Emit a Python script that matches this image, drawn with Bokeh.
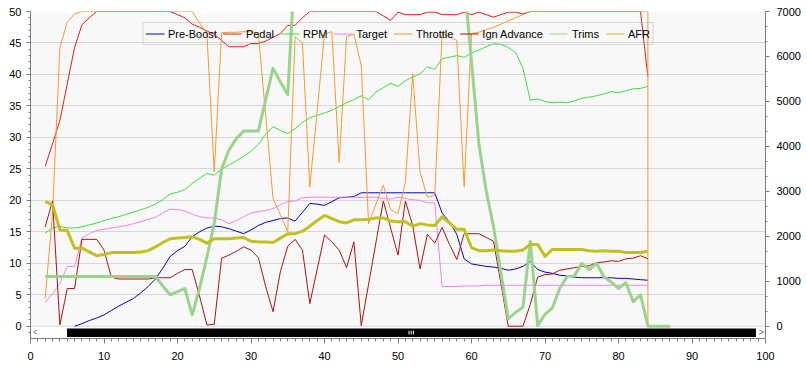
from bokeh.plotting import figure
from bokeh.models import (Range1d, LinearAxis, SingleIntervalTicker, Legend,
                          LegendItem, BoxAnnotation)
from bokeh.embed import file_html
from bokeh.resources import INLINE

# ---------------- data ----------------
X = list(range(2, 85))            # samples 2..84
X_PB = list(range(6, 85))         # Pre-Boost starts at 6
X_TRIMS = list(range(2, 88))      # Trims runs to 87

PRE_BOOST = [
    0.0, 0.4, 0.9, 1.3, 1.8,
    2.5, 3.2, 3.8, 4.4, 5.3,
    6.3, 7.5, 9.2, 11.1, 12.0,
    12.7, 14.2, 15.0, 15.6, 15.9,
    15.8, 15.5, 15.1, 14.7, 15.3,
    16.0, 16.5, 16.8, 17.1, 17.2,
    16.7, 18.1, 19.5, 19.4, 19.2,
    19.8, 20.4, 20.5, 20.6, 21.2,
    21.2, 21.2, 21.2, 21.2, 21.2,
    21.2, 21.2, 21.2, 21.2, 21.2,
    18.0, 16.6, 14.6, 10.7, 9.9,
    9.7, 9.5, 9.4, 9.2, 8.9,
    9.1, 9.5, 10.3, 9.0, 8.6,
    8.4, 8.1, 8.0, 7.8, 7.7,
    7.7, 7.7, 7.7, 7.7, 7.6,
    7.6, 7.5, 7.4, 7.3,
]

PEDAL = [
    25.4, 29.0, 32.7, 38.5, 44.3,
    47.9, 49.0, 50.0, 50.0, 50.0,
    50.0, 50.0, 50.0, 50.0, 50.0,
    50.0, 50.0, 50.0, 49.5, 49.0,
    48.0, 47.5, 46.9, 46.4, 45.4,
    44.4, 44.4, 44.4, 44.9, 44.9,
    45.3, 45.9, 46.5, 47.8, 47.8,
    49.0, 50.0, 50.0, 50.0, 50.0,
    50.0, 50.0, 50.0, 50.0, 50.0,
    50.0, 49.3, 48.6, 49.9, 49.5,
    49.5, 49.5, 49.9, 49.9, 49.5,
    49.5, 49.5, 49.9, 49.5, 49.9,
    49.5, 49.1, 49.5, 49.9, 49.9,
    49.6, 50.0, 50.0, 50.0, 50.0,
    50.0, 50.0, 50.0, 50.0, 50.0,
    50.0, 50.0, 50.0, 50.0, 50.0,
    50.0, 50.0, 39.6,
]

RPM = [
    2070, 2185, 2225, 2185, 2185,
    2210, 2255, 2295, 2350, 2395,
    2435, 2490, 2535, 2590, 2645,
    2715, 2815, 2940, 2980, 3040,
    3175, 3290, 3400, 3360, 3500,
    3585, 3680, 3780, 3890, 4045,
    4270, 4440, 4355, 4285, 4395,
    4535, 4635, 4690, 4745, 4800,
    4885, 4970, 5040, 5125, 5040,
    5210, 5305, 5405, 5335, 5460,
    5545, 5615, 5770, 5710, 5950,
    5980, 6020, 5980, 6075, 6145,
    6215, 6285, 6270, 6200, 6090,
    5740, 5025, 5055, 5000, 4970,
    4985, 4970, 5010, 5070, 5095,
    5125, 5165, 5220, 5195, 5235,
    5280, 5290, 5335,
]

TARGET = [
    3.8, 5.2, 6.8, 9.5, 9.5,
    14.0, 14.7, 15.2, 15.4, 15.6,
    15.8, 16.0, 16.3, 16.6, 17.0,
    17.3, 18.0, 18.6, 18.5, 18.3,
    17.8, 17.4, 17.2, 17.2, 16.9,
    16.3, 16.8, 17.4, 18.0, 18.2,
    18.4, 18.7, 19.3, 19.8, 19.9,
    20.4, 20.5, 20.5, 20.5, 20.5,
    20.5, 20.5, 20.5, 20.5, 20.5,
    20.5, 20.3, 20.2, 20.5, 20.3,
    20.1, 20.0, 19.6, 19.6, 6.3,
    6.3, 6.3, 6.4, 6.4, 6.4,
    6.5, 6.5, 6.5, 6.5, 6.5,
    6.5, 6.5, 6.5, 6.5, 6.5,
    6.5, 6.5, 6.5, 6.5, 6.5,
    6.5, 6.5, 6.5, 6.5, 6.5,
    6.5, 6.5, 6.5,
]

X_THROTTLE = X + [84]
THROTTLE = [
    4.4, 18.0, 44.3, 48.3, 49.6,
    50.0, 50.0, 50.0, 50.0, 50.0,
    50.0, 50.0, 50.0, 50.0, 50.0,
    50.0, 50.0, 50.0, 50.0, 50.0,
    50.0, 48.2, 46.5, 24.5, 46.6,
    46.7, 46.7, 46.8, 46.8, 46.5,
    33.5, 20.3, 17.7, 15.0, 46.0,
    45.0, 22.1, 34.2, 46.4, 46.8,
    26.0, 46.0, 46.4, 41.4, 16.3,
    19.4, 22.4, 18.5, 17.9, 22.8,
    40.0, 24.5, 20.5, 20.8, 46.5,
    46.0, 45.4, 22.1, 46.5, 46.7,
    47.1, 47.5, 48.0, 48.5, 49.0,
    49.5, 50.0, 50.0, 50.0, 50.0,
    50.0, 50.0, 50.0, 50.0, 50.0,
    50.0, 50.0, 50.0, 50.0, 50.0,
    50.0, 50.0, 50.0, 0.0,
]

IGN_ADVANCE = [
    15.8, 19.9, 0.2, 6.0, 6.0,
    13.8, 13.8, 13.8, 12.1, 7.8,
    7.5, 7.5, 7.5, 7.5, 7.5,
    7.7, 7.7, 7.7, 8.4, 9.0,
    9.0, 4.8, 0.2, 0.3, 10.8,
    11.3, 11.9, 12.6, 12.1, 10.9,
    6.3, 2.3, 8.7, 12.7, 13.8,
    12.1, 3.6, 9.0, 14.5, 13.4,
    12.1, 9.3, 13.4, 0.1, 6.7,
    13.3, 19.9, 15.6, 11.3, 19.9,
    16.0, 9.1, 14.6, 13.2, 15.7,
    13.0, 10.6, 14.7, 14.7, 14.7,
    14.1, 13.5, 6.8, 0.0, 0.0,
    0.0, 3.5, 7.8, 8.2, 8.3,
    8.9, 9.1, 9.3, 9.5, 9.6,
    10.1, 10.2, 10.4, 10.3, 10.7,
    10.8, 11.2, 10.7,
]

TRIMS = [
    7.9, 7.9, 7.9, 7.9, 7.9,
    7.9, 7.9, 7.9, 7.9, 7.9,
    7.9, 7.9, 7.9, 7.9, 7.9,
    7.9, 6.4, 5.0, 5.5, 6.0,
    1.8, 6.0, 11.0, 16.3, 25.0,
    28.0, 29.8, 31.0, 31.0, 31.0,
    36.0, 41.0, 38.8, 36.8, 58.0,
    58.0, 58.0, 58.0, 58.0, 58.0,
    58.0, 58.0, 58.0, 58.0, 58.0,
    58.0, 58.0, 58.0, 58.0, 58.0,
    58.0, 58.0, 58.0, 58.0, 58.0,
    58.0, 58.0, 55.0, 42.0, 29.0,
    21.5, 15.8, 8.5, 1.2, 2.2,
    3.0, 13.5, 0.1, 1.9, 2.9,
    6.0, 7.9, 8.0, 10.0, 9.0,
    10.0, 7.9, 7.0, 6.0, 6.9,
    3.9, 5.0, 0.0, 0.0, 0.0,
    0.0,
]

AFR = [
    19.8, 19.3, 15.3, 15.2, 12.4,
    12.4, 11.8, 11.2, 11.4, 11.7,
    11.7, 11.7, 11.7, 11.8, 12.0,
    12.6, 13.3, 13.9, 14.0, 14.1,
    14.2, 13.8, 13.2, 13.9, 13.9,
    13.9, 14.0, 14.1, 13.5, 13.4,
    13.4, 13.3, 14.0, 14.7, 14.7,
    15.1, 15.9, 16.8, 17.6, 17.1,
    16.6, 16.4, 16.9, 16.9, 17.0,
    17.2, 17.2, 16.7, 16.6, 16.6,
    15.9, 16.3, 16.1, 16.0, 17.4,
    16.4, 15.4, 15.4, 12.5, 12.0,
    12.0, 12.1, 12.0, 11.9, 11.9,
    12.1, 13.0, 13.0, 11.1, 12.2,
    12.2, 12.2, 12.2, 12.2, 12.0,
    11.9, 12.0, 11.9, 11.9, 11.7,
    11.7, 11.7, 11.9,
]

SERIES_NAMES = ["Pre-Boost", "Pedal", "RPM", "Target", "Throttle",
                "Ign Advance", "Trims", "AFR"]
COLORS = ["#0000cd", "#e41c1c", "#3cdc3c", "#ee82ee", "#f39a30",
          "#b01010", "#9ad48c", "#c0c020"]

X_RANGE = (0, 100)
LEFT_RANGE = (-1.95, 50)
RPM_RANGE = (-273, 7000)

FONT = "Liberation Sans"
FS = "11px"

# ---------------- figure ----------------
p = figure(frame_width=735, frame_height=327,
           x_range=Range1d(*X_RANGE), y_range=Range1d(*LEFT_RANGE),
           output_backend="svg", toolbar_location=None,
           min_border_left=30, min_border_right=37,
           min_border_top=11, min_border_bottom=26,
           background_fill_color="#f8f8f8", border_fill_color="white",
           outline_line_color=None)

p.extra_y_ranges = {"rpm": Range1d(*RPM_RANGE)}

left_ticker = SingleIntervalTicker(interval=5, num_minor_ticks=5)
p.yaxis.ticker = left_ticker
p.ygrid.ticker = left_ticker
p.ygrid.grid_line_color = "#d6d6d6"
p.xgrid.visible = False
p.xaxis.ticker = SingleIntervalTicker(interval=10, num_minor_ticks=10)

right_axis = LinearAxis(y_range_name="rpm",
                        ticker=SingleIntervalTicker(interval=1000, num_minor_ticks=3))
p.add_layout(right_axis, "right")

for ax in [p.xaxis[0], p.yaxis[0], right_axis]:
    ax.axis_line_color = "#7a7a7a"
    ax.major_tick_line_color = "#7a7a7a"
    ax.minor_tick_line_color = "#7a7a7a"
    ax.major_tick_in = 0
    ax.minor_tick_in = 0
    ax.major_label_text_font = FONT
    ax.major_label_text_font_size = FS
    ax.major_label_text_color = "black"

p.yaxis[0].major_tick_out = 4
p.yaxis[0].minor_tick_out = 2
p.yaxis[0].major_label_standoff = 5
right_axis.major_tick_out = 4
right_axis.minor_tick_out = 2
right_axis.major_label_standoff = 7
p.xaxis[0].major_tick_out = 5
p.xaxis[0].minor_tick_out = 3
p.xaxis[0].major_label_standoff = 8

# ---------------- scrollbar chrome (decoration) ----------------
p.add_layout(BoxAnnotation(left=X_RANGE[0], right=X_RANGE[1], bottom=LEFT_RANGE[0], top=0,
                           fill_color="white", fill_alpha=1, line_color="#9a9a9a",
                           line_width=1, level="underlay"))
p.add_layout(BoxAnnotation(left=4.97, right=98.7, bottom=-1.7, top=-0.37,
                           fill_color="black", fill_alpha=1, line_color=None,
                           level="underlay"))
p.segment(x0=[51.5, 51.8, 52.1], y0=[-0.72] * 3, x1=[51.5, 51.8, 52.1], y1=[-1.3] * 3,
          line_color="white", line_width=1)
p.line([0.88, 0.44, 0.88], [-0.63, -0.95, -1.27], line_color="#808080", line_width=1)
p.line([99.15, 99.76, 99.15], [-0.63, -0.95, -1.27], line_color="#808080", line_width=1)

# ---------------- series ----------------
r_pb = p.line(X_PB, PRE_BOOST, line_color=COLORS[0], line_width=1)
r_pedal = p.line(X, PEDAL, line_color=COLORS[1], line_width=1)
r_rpm = p.line(X, RPM, line_color=COLORS[2], line_width=1, y_range_name="rpm")
r_target = p.line(X, TARGET, line_color=COLORS[3], line_width=1)
r_thr = p.line(X_THROTTLE, THROTTLE, line_color=COLORS[4], line_width=1)
r_ign = p.line(X, IGN_ADVANCE, line_color=COLORS[5], line_width=1)
r_trims = p.line(X_TRIMS, TRIMS, line_color=COLORS[6], line_width=3, line_join="round")
r_afr = p.line(X, AFR, line_color=COLORS[7], line_width=3, line_join="round")

# thin legend samples for the thick series (single off-range point: draws nothing)
d_trims = p.line([-10], [-10], line_color=COLORS[6], line_width=1)
d_afr = p.line([-10], [-10], line_color=COLORS[7], line_width=1)

legend_renderers = [r_pb, r_pedal, r_rpm, r_target, r_thr, r_ign, d_trims, d_afr]
items = [LegendItem(label=n, renderers=[r]) for n, r in zip(SERIES_NAMES, legend_renderers)]

legend = Legend(items=items, location="top_center", orientation="horizontal",
                margin=11, padding=2, spacing=6, glyph_width=19, glyph_height=17,
                label_height=17, label_standoff=4, label_text_font=FONT,
                label_text_font_size=FS, label_text_color="black",
                border_line_color="#b4b4b4", background_fill_alpha=0)
p.add_layout(legend)

open("out.html", "w").write(file_html(p, INLINE))
